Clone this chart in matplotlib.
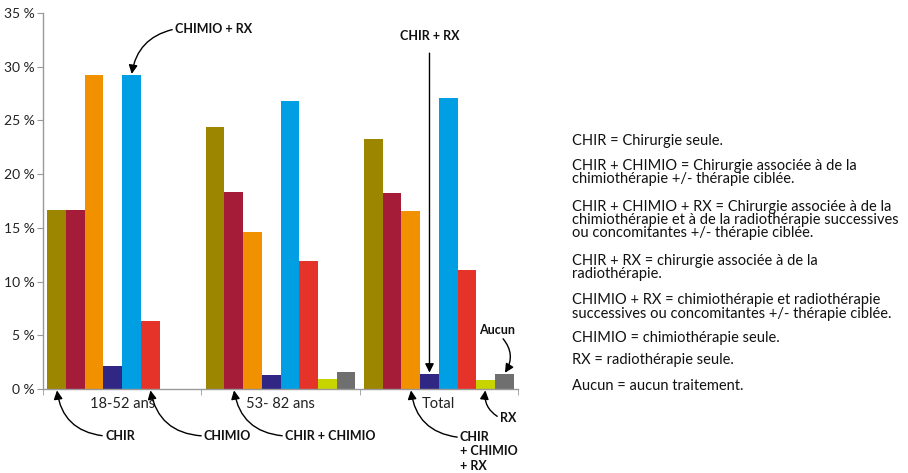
import numpy as np
import matplotlib
matplotlib.use("Agg")
from matplotlib import pyplot as plt
from matplotlib.ticker import FixedLocator, FuncFormatter

plt.rcParams['font.family'] = ['Lato', 'DejaVu Sans']

groups = ['18-52 ans', '53- 82 ans', 'Total']
treatments = ['CHIR', 'CHIR + CHIMIO', 'CHIR + CHIMIO + RX', 'CHIR + RX',
              'CHIMIO + RX', 'CHIMIO', 'RX', 'Aucun']
colors = ['#9C8600', '#A51C38', '#F29100', '#302683',
          '#009FE3', '#E6332A', '#C8D400', '#706F6F']

# percentages per treatment, one value per age group
chir = [16.7, 24.4, 23.3]
chir_chimio = [16.7, 18.3, 18.2]
chir_chimio_rx = [29.2, 14.6, 16.6]
chir_rx = [2.1, 1.3, 1.4]
chimio_rx = [29.2, 26.8, 27.1]
chimio = [6.3, 11.9, 11.1]
rx = [0.0, 0.9, 0.8]
aucun = [0.0, 1.6, 1.4]

series = [chir, chir_chimio, chir_chimio_rx, chir_rx, chimio_rx, chimio, rx, aucun]

legend_lines = [
    "CHIR = Chirurgie seule.",
    "CHIR + CHIMIO = Chirurgie associée à de la\nchimiothérapie +/- thérapie ciblée.",
    "CHIR + CHIMIO + RX = Chirurgie associée à de la\nchimiothérapie et à de la radiothérapie successives\nou concomitantes +/- thérapie ciblée.",
    "CHIR + RX = chirurgie associée à de la\nradiothérapie.",
    "CHIMIO + RX = chimiothérapie et radiothérapie\nsuccessives ou concomitantes +/- thérapie ciblée.",
    "CHIMIO = chimiothérapie seule.",
    "RX = radiothérapie seule.",
    "Aucun = aucun traitement.",
]

W, H = 908, 473
fig = plt.figure(figsize=(W / 100, H / 100), dpi=100)
ax = fig.add_axes([43 / W, 1 - 389 / H, 475 / W, 376 / H])

x = np.arange(len(groups))
w = 0.118
start = -0.472
for j, vals in enumerate(series):
    ax.bar(x + start + w * (j + 0.5), vals, width=w, color=colors[j],
           edgecolor='none', zorder=2)

ax.set_xlim(-0.5, 2.5)
ax.set_ylim(0, 35)
ax.set_yticks(np.arange(0, 36, 5))
ax.yaxis.set_major_formatter(FuncFormatter(lambda v, p: f"{int(v)} %"))
ax.tick_params(axis='y', length=4, color='#999999', labelsize=10,
               labelcolor='#222222', pad=2)

ax.set_xticks(x)
ax.set_xticklabels(groups)
ax.xaxis.set_minor_locator(FixedLocator([-0.5, 0.5, 1.5, 2.5]))
ax.tick_params(axis='x', which='major', length=0, labelsize=10.5,
               labelcolor='#222222', pad=6)
ax.tick_params(axis='x', which='minor', length=4, color='#999999')

for s in ['top', 'right']:
    ax.spines[s].set_visible(False)
for s in ['left', 'bottom']:
    ax.spines[s].set_color('#999999')
    ax.spines[s].set_linewidth(1.0)


def bar_top(group, idx):
    return (x[group] + start + w * (idx + 0.5), series[idx][group])


arrow = dict(arrowstyle='-|>', color='black', lw=1.0, mutation_scale=13,
             shrinkA=0, shrinkB=1)
bold = dict(fontsize=9, fontweight='bold', color='#111111')

# CHIMIO + RX above the first group
ax.annotate('CHIMIO + RX', xy=bar_top(0, 4), xytext=(175, H - 29),
            textcoords='figure pixels', ha='left', va='center',
            arrowprops=dict(arrow, connectionstyle='arc3,rad=0.35',
                            relpos=(0, 0.5)), annotation_clip=False, **bold)

# labels below the axis pointing up at the bar bases
below = [('CHIR', 0, 0, 105, 'left'), ('CHIMIO', 0, 5, 204, 'left'),
         ('CHIR + CHIMIO', 1, 1, 285, 'left')]
for txt, g, idx, tx, ha in below:
    bx, _ = bar_top(g, idx)
    ax.annotate(txt, xy=(bx, 0), xytext=(tx, H - 436),
                textcoords='figure pixels', ha=ha, va='center',
                arrowprops=dict(arrow, connectionstyle='arc3,rad=-0.4',
                                relpos=(0, 0.5)),
                annotation_clip=False, **bold)

bx, _ = bar_top(2, 2)
ax.annotate('CHIR\n+ CHIMIO\n+ RX', xy=(bx, 0), xytext=(460, H - 451),
            textcoords='figure pixels', ha='left', va='center',
            linespacing=1.25,
            arrowprops=dict(arrow, connectionstyle='arc3,rad=-0.4',
                            relpos=(0, 0.83)),
            annotation_clip=False, **bold)

bx, _ = bar_top(2, 6)
ax.annotate('RX', xy=(bx, 0), xytext=(500, H - 418),
            textcoords='figure pixels', ha='left', va='center',
            arrowprops=dict(arrow, connectionstyle='arc3,rad=-0.35',
                            relpos=(0, 0.5)),
            annotation_clip=False, **bold)

ax.annotate('Aucun', xy=bar_top(2, 7), xytext=(497, H - 330),
            textcoords='figure pixels', ha='center', va='center',
            arrowprops=dict(arrow, connectionstyle='arc3,rad=-0.4',
                            relpos=(0.6, 0)),
            annotation_clip=False, **bold)

ax.annotate('CHIR + RX', xy=bar_top(2, 3), xytext=(bar_top(2, 3)[0], 32.3),
            textcoords='data', ha='center', va='bottom',
            arrowprops=dict(arrow, connectionstyle='arc3,rad=0',
                            relpos=(0.5, 0), shrinkA=6),
            annotation_clip=False, **bold)

# definitions on the right
ys = [141, 172.5, 220, 267.5, 307, 338, 360, 386]
for t, yy in zip(legend_lines, ys):
    fig.text(572 / W, 1 - yy / H, t, ha='left', va='center', fontsize=10.5,
             color='#111111', linespacing=0.95)

fig.savefig('out.png', dpi=100)
